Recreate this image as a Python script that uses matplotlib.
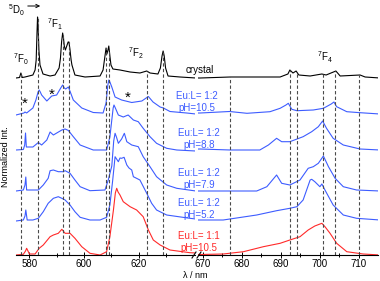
import numpy as np
import matplotlib
matplotlib.use("Agg")
import matplotlib.pyplot as plt
from matplotlib.lines import Line2D

plt.rcParams['font.family'] = ['Liberation Sans', 'DejaVu Sans']
plt.rcParams['mathtext.fontset'] = 'custom'
plt.rcParams['mathtext.rm'] = 'Liberation Sans'
plt.rcParams['mathtext.it'] = 'Liberation Sans:italic'

# ---------------- data (wavelength nm, normalized intensity) ----------------
crystal_wl = [575.1, 576.4, 576.9, 577.4, 578.4, 581.3, 582.1, 582.5, 582.8, 583.0, 583.2, 583.5, 583.9, 585.0,
              587.6, 589.4, 590.9, 591.4, 591.8, 592.2, 592.5, 592.8, 593.2, 593.7, 594.2, 594.5, 594.9, 595.3,
              595.6, 596.7, 600.4, 605.9, 607.0, 607.6, 608.1, 608.4, 608.8, 609.1, 609.5, 609.9, 610.6, 613.2,
              616.9, 620.5, 623.0, 624.2, 627.1, 628.0, 628.6, 629.0, 629.4, 629.9, 630.8, 635.2, 641.0, 669.4,
              677.1, 689.9, 691.9, 692.4, 693.2, 694.0, 694.7, 697.6, 700.6, 701.7, 704.2, 705.3, 710.4, 711.7,
              715.5]
crystal_int = [0, 0.5, 5, 0.5, 1, 3, 8, 18, 45, 61, 52, 28, 13, 4,
               2, 3, 10, 20, 36, 45, 40, 32, 28, 32, 36, 36, 28, 18,
               13, 3, 1, 2, 8, 20, 30, 24, 28, 32, 22, 13, 9, 8,
               6, 5, 7, 5, 4, 10, 22, 27, 22, 10, 2, 1, 0, 0,
               1, 1, 4, 8, 5, 7, 3, 2, 4, 3, 7, 2, 3, 1,
               0]

ph105_wl = [575.1, 578.0, 578.4, 579.0, 581.3, 582.4, 583.2, 583.6, 584.0, 584.5, 586.4, 588.2, 590.0, 591.5,
            592.2, 592.8, 593.3, 594.3, 595.0, 596.1, 599.2, 603.4, 607.0, 608.1, 608.7, 609.1, 609.5, 610.2,
            611.4, 613.8, 617.5, 621.2, 623.6, 625.3, 627.9, 629.1, 631.5, 637.6, 641.0, 669.4, 676.9, 681.4,
            687.3, 689.9, 691.4, 692.0, 692.9, 694.2, 698.4, 701.0, 703.0, 703.7, 704.4, 707.0, 710.4, 715.5]
ph105_int = [-1, 1, 2, 1, 6, 14, 22, 24, 22, 19, 13, 18, 19, 26,
             29, 26, 25, 27, 22, 14, 6, 1.5, 1, 11, 28, 34, 32, 27,
             17, 14, 11.5, 13, 17.5, 12, 7, 6, 2.5, 1, 0, 1, 2.5, 0.7,
             2.3, 5.7, 9, 10.7, 4.7, 3.3, 4, 5.7, 10, 12, 7.3, 2.3, 1.3, 0]

ph88_wl = [575.1, 577.8, 578.3, 578.6, 578.9, 581.3, 583.3, 584.5, 586.4, 587.6, 588.8, 591.9, 593.1, 594.3,
           596.1, 598.6, 603.4, 608.3, 609.5, 610.2, 610.7, 611.0, 611.5, 612.6, 614.4, 616.2, 618.1, 619.9,
           621.7, 624.2, 626.6, 630.3, 634.0, 641.0, 669.4, 677.1, 684.7, 686.9, 689.0, 690.3, 692.4, 695.8,
           698.0, 699.7, 700.8, 701.8, 703.5, 706.1, 710.4, 715.5]
ph88_int = [0, 0.5, 5, 17, 3, 3, 7.5, 5, 10, 18, 15, 20, 21, 19.5,
            13.3, 5, 0, 0, 13, 30, 42, 45, 42, 35, 33, 35, 30, 28.3,
            21.7, 13.3, 6.7, 1.7, 0, -1, 1, 0, 0, 5, 11.7, 8.3, 8.3, 13.3,
            18.3, 23.3, 29, 21.7, 11.7, 5, 1, 0]

ph79_wl = [575.1, 577.8, 578.4, 578.7, 579.0, 583.3, 585.1, 586.9, 587.6, 588.8, 590.6, 592.4, 593.1, 594.9,
           596.7, 598.6, 602.2, 607.7, 608.9, 610.2, 610.9, 611.4, 611.9, 612.6, 613.8, 614.8, 615.7, 617.5,
           619.9, 621.7, 624.2, 626.6, 630.3, 634.0, 641.0, 669.4, 683.9, 686.5, 689.0, 690.3, 692.4, 695.0,
           697.1, 698.4, 699.7, 701.0, 702.3, 704.0, 706.1, 709.5, 715.5]
ph79_int = [0, 1, 6, 14, 1, 1, 6, 12.7, 20.3, 21, 19.3, 19.3, 20.3, 17.7,
            11, 4.3, 0.3, 1, 11, 25, 50, 57.7, 54, 47.7, 52, 57.7, 49.3, 46,
            44.3, 34.3, 24.3, 14.3, 6, 2.7, 0, 0, 0, 4.3, 16, 7.7, 6, 11,
            22.7, 24.3, 27.7, 35, 24.3, 12.7, 4.3, 1, 0]

ph52_wl = [575.1, 577.8, 578.4, 578.7, 579.2, 581.3, 583.3, 585.1, 586.9, 588.8, 590.6, 591.9, 593.1, 593.7,
           594.9, 596.7, 598.6, 602.2, 605.9, 608.3, 609.5, 610.5, 611.4, 612.6, 613.2, 613.8, 614.7, 615.7,
           616.5, 617.5, 618.1, 620.5, 623.0, 624.8, 626.6, 630.3, 638.8, 641.0, 669.4, 675.3, 683.9, 689.0,
           692.4, 694.2, 695.8, 696.7, 697.6, 698.0, 698.8, 700.1, 700.6, 701.4, 703.5, 706.1, 709.5, 715.5]
ph52_int = [0, 1, 5, 11, 1, 1, 2.7, 9.3, 17.7, 22.7, 24.3, 22.7, 21, 19.3,
            16, 9.3, 3.7, 1, 1, 3.7, 16, 40, 64.3, 59.3, 63, 62.7, 63.7, 56,
            53, 51, 44.3, 41, 27.7, 17.7, 11, 6, 2.7, 2, 1, 1, 6, 10.3,
            12.7, 14.3, 21, 31, 41, 41.7, 39.3, 34.3, 37, 31, 16, 6, 2.7, 1]

red_wl = [575.1, 577.8, 578.6, 579.0, 579.5, 580.0, 582.1, 583.6, 585.1, 587.6, 588.8, 590.6, 591.9, 593.1,
          594.9, 596.7, 599.2, 602.2, 605.9, 608.3, 609.5, 610.8, 611.5, 612.0, 612.5, 613.2, 614.4, 616.9,
          619.3, 621.7, 623.6, 625.4, 627.9, 631.5, 638.8, 641.0, 669.4, 675.3, 680.5, 685.6, 689.9, 692.4,
          695.0, 697.1, 698.8, 700.6, 701.4, 702.7, 704.4, 707.0, 711.2, 715.5]
red_int = [0, 0.7, 4, 6.7, 4, 1, 1, 6.7, 10, 18.3, 20, 21.7, 25.7, 21.7,
           21.7, 16.7, 8.3, 1.7, 0, 3.3, 18.3, 45, 62, 66.7, 63, 60, 53.3, 48.3,
           45, 38.3, 25, 15, 10, 5, 2.3, 2, 0.5, 1, 3.3, 8.3, 11.7, 15,
           18.3, 25, 29, 31.7, 28.3, 21.7, 11.7, 3.3, 1, 0]

series_labels = ["crystal", "Eu:L= 1:2\npH=10.5", "Eu:L= 1:2\npH=8.8", "Eu:L= 1:2\npH=7.9",
                 "Eu:L= 1:2\npH=5.2", "Eu:L= 1:1\npH=10.5"]

lines_left = [576.9, 583.0, 592.2, 594.5, 608.1, 609.3, 623.0, 629.1]
lines_right = [677.0, 692.4, 694.2, 700.8, 704.0, 710.1]

transitions = [r"$^{7}$F$_{0}$", r"$^{7}$F$_{1}$", r"$^{7}$F$_{2}$", r"$^{7}$F$_{4}$"]

# ---------------- styling / layout ----------------
W, H = 380, 281
BLUE = '#3d5cff'
RED = '#ff2a2a'
offsets = [177, 141, 105, 64, 34, 0]
colors = ['black', BLUE, BLUE, BLUE, BLUE, RED]

fig = plt.figure(figsize=(W / 100, H / 100), dpi=100)

def fx(px):
    return px / W

def fy(py):
    return 1 - py / H

axL = fig.add_axes([fx(15.7), fy(255), fx(195 - 15.7), 255 / H])
axR = fig.add_axes([fx(198), fy(255), fx(378 - 198), 255 / H])

series = [(crystal_wl, crystal_int), (ph105_wl, ph105_int), (ph88_wl, ph88_int),
          (ph79_wl, ph79_int), (ph52_wl, ph52_int), (red_wl, red_int)]

for ax in (axL, axR):
    for (wl, it), off, c in zip(series, offsets, colors):
        ax.plot(wl, np.array(it) + off, color=c, lw=0.8)
    ax.set_ylim(0, 255)
    for s in ('top', 'right', 'left'):
        ax.spines[s].set_visible(False)
    ax.spines['bottom'].set_linewidth(0.8)
    ax.set_yticks([])
    ax.patch.set_alpha(0)
    ax.tick_params(axis='x', which='major', direction='inout', length=5, width=0.7, labelsize=7, pad=0.5)
    ax.tick_params(axis='x', which='minor', direction='inout', length=3, width=0.7)

axL.set_xlim(575, 575 + (195 - 15.7) / 2.73)
axR.set_xlim(710 + (198 - 358.5) / 3.9, 715.0)
axL.set_xticks([580, 600, 620])
axL.set_xticks([590, 610, 630], minor=True)
axR.set_xticks([670, 680, 690, 700, 710])
axR.set_xticks([675, 685, 695, 705], minor=True)

dash = dict(color='#4a4a4a', lw=0.8, linestyle=(0, (3, 2)))
for ax, pos in ((axL, lines_left), (axR, lines_right)):
    for p in pos:
        top = np.interp(p, crystal_wl, crystal_int) + offsets[0]
        ax.plot([p, p], [0, top], **dash)

# break marks
for bx in (194, 199):
    fig.add_artist(Line2D([fx(bx - 2), fx(bx + 2)], [fy(258), fy(252)], color='black', lw=0.8))

# axis labels
fig.text(fx(195), fy(276), "λ / nm", ha='center', va='center', fontsize=6.5)
fig.text(fx(6), fy(157), "Normalized Int.", rotation=90, ha='center', va='center', fontsize=6.5)

# transition annotations
fig.text(fx(16), fy(10), r"$^{5}$D$_{0}$", ha='center', va='center', fontsize=7)
fig.add_artist(matplotlib.patches.FancyArrowPatch((fx(25), fy(6)), (fx(43), fy(6)),
                                                  transform=fig.transFigure, arrowstyle='->',
                                                  mutation_scale=6, lw=0.7, color='black'))
for t, (px, py) in zip(transitions, [(21, 59), (55, 24), (136, 53), (325, 57)]):
    fig.text(fx(px), fy(py), t, ha='center', va='center', fontsize=7)

fig.text(fx(186), fy(70), series_labels[0], ha='left', va='center', fontsize=7, color='black')
label_pos = [(197, 102), (199, 139), (199, 179), (199, 209), (199, 242)]
for lab, (px, py), c in zip(series_labels[1:], label_pos, colors[1:]):
    fig.text(fx(px), fy(py), lab, ha='center', va='center', fontsize=7, color=c, linespacing=1.2)

for px, py in [(25, 104), (52, 95), (128, 98)]:
    fig.text(fx(px), fy(py), "*", ha='center', va='center', fontsize=11, color='black')

fig.savefig("out.png", dpi=100)
